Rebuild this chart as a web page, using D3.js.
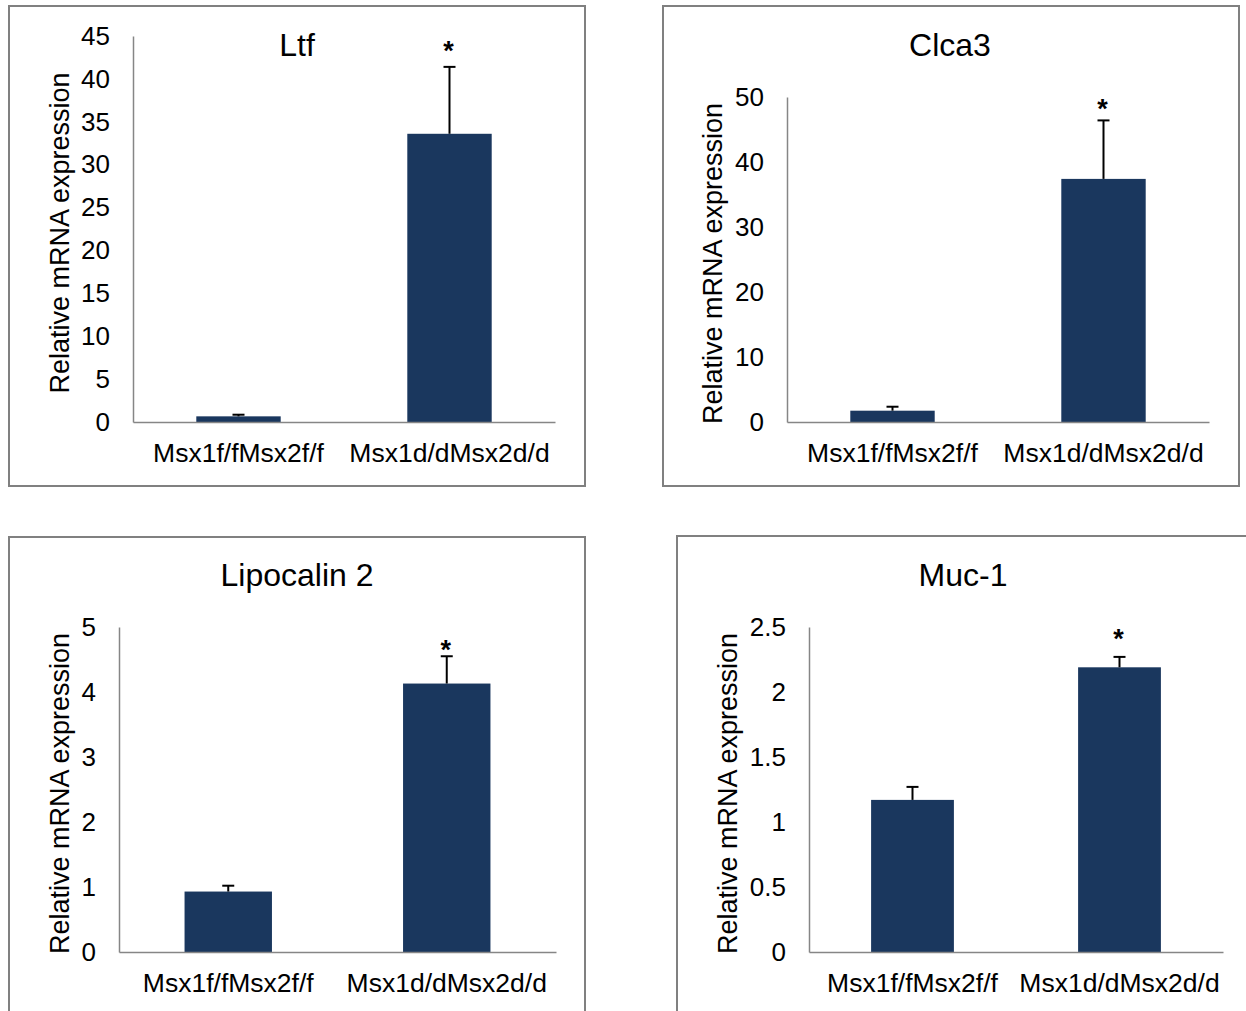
<!DOCTYPE html>
<html>
<head>
<meta charset="utf-8">
<script src="https://cdn.jsdelivr.net/npm/d3@7"></script>
<style>
  html, body { margin: 0; padding: 0; background: #fff; }
  svg { display: block; }
  text { font-family: "Liberation Sans", Arial, sans-serif; fill: #000; }
</style>
</head>
<body>
<svg id="chart" width="1246" height="1011"></svg>
<script>
// Groups on the x axis (same in every panel)
const categories = ["Msx1f/fMsx2f/f", "Msx1d/dMsx2d/d"];

// Gene names used as panel titles
const genes = ["Ltf", "Clca3", "Lipocalin 2", "Muc-1"];

// Mean relative expression and error (SD) per group
const ltfMean = [0.66, 33.6];
const ltfErr = [0.19, 7.8];
const clca3Mean = [1.74, 37.4];
const clca3Err = [0.61, 9.0];
const lcn2Mean = [0.93, 4.13];
const lcn2Err = [0.09, 0.42];
const muc1Mean = [1.17, 2.19];
const muc1Err = [0.10, 0.08];

// Significance marks per group
const significance = ["", "*"];

// Y-axis tick values per panel
const ltfTicks = [0, 5, 10, 15, 20, 25, 30, 35, 40, 45];
const clca3Ticks = [0, 10, 20, 30, 40, 50];
const lcn2Ticks = [0, 1, 2, 3, 4, 5];
const muc1Ticks = [0, 0.5, 1, 1.5, 2, 2.5];

const yLabel = "Relative mRNA expression";

// Panel geometry: outer frame, plot area, title/label placement
const panels = [
  { title: genes[0], mean: ltfMean, err: ltfErr, ticks: ltfTicks,
    frame: [9, 6, 576, 480], plot: { x0: 133, x1: 555, y0: 36, y1: 422 },
    titleXY: [297, 45], labelX: 60, catY: 455, starGap: 21 },
  { title: genes[1], mean: clca3Mean, err: clca3Err, ticks: clca3Ticks,
    frame: [663, 6, 576, 480], plot: { x0: 787, x1: 1209, y0: 97, y1: 422 },
    titleXY: [950, 45], labelX: 713, catY: 455, starGap: 16 },
  { title: genes[2], mean: lcn2Mean, err: lcn2Err, ticks: lcn2Ticks,
    frame: [9, 537, 576, 490], plot: { x0: 119, x1: 556, y0: 627, y1: 952 },
    titleXY: [297, 575], labelX: 60, catY: 985, starGap: 11 },
  { title: genes[3], mean: muc1Mean, err: muc1Err, ticks: muc1Ticks,
    frame: [677, 536, 590, 490], plot: { x0: 809, x1: 1223, y0: 627, y1: 952 },
    titleXY: [963, 575], labelX: 728, catY: 985, starGap: 23 }
];

const svg = d3.select("#chart");
const barColor = "#1a375e";
const axisColor = "#868686";

panels.forEach(p => {
  const g = svg.append("g");

  // frame
  g.append("rect")
    .attr("x", p.frame[0]).attr("y", p.frame[1])
    .attr("width", p.frame[2]).attr("height", p.frame[3])
    .attr("fill", "none").attr("stroke", "#808080").attr("stroke-width", 2);

  const x = d3.scaleBand()
    .domain(categories)
    .range([p.plot.x0, p.plot.x1])
    .paddingInner(0.6)
    .paddingOuter(0.3);

  const yMax = p.ticks[p.ticks.length - 1];
  const y = d3.scaleLinear().domain([0, yMax]).range([p.plot.y1, p.plot.y0]);

  // y axis
  const yAxis = d3.axisLeft(y)
    .tickValues(p.ticks)
    .tickSize(0)
    .tickPadding(23)
    .tickFormat(d3.format("~g"));
  const ya = g.append("g")
    .attr("transform", `translate(${p.plot.x0},0)`)
    .call(yAxis);
  ya.select(".domain").attr("stroke", axisColor).attr("stroke-width", 1.5);
  ya.selectAll("text")
    .style("font-family", "'Liberation Sans', Arial, sans-serif")
    .style("font-size", "26px").attr("fill", "#000");

  // bars
  g.selectAll("rect.bar")
    .data(categories)
    .join("rect")
    .attr("class", "bar")
    .attr("x", d => x(d))
    .attr("width", x.bandwidth())
    .attr("y", (d, i) => y(p.mean[i]))
    .attr("height", (d, i) => y(0) - y(p.mean[i]))
    .attr("fill", barColor);

  // error bars (upper only) and significance marks
  const capHalf = 6;
  categories.forEach((c, i) => {
    const cx = x(c) + x.bandwidth() / 2;
    const top = y(p.mean[i] + p.err[i]);
    g.append("line")
      .attr("x1", cx).attr("x2", cx)
      .attr("y1", y(p.mean[i])).attr("y2", top)
      .attr("stroke", "#000").attr("stroke-width", 2);
    g.append("line")
      .attr("x1", cx - capHalf).attr("x2", cx + capHalf)
      .attr("y1", top).attr("y2", top)
      .attr("stroke", "#000").attr("stroke-width", 2);
    if (significance[i]) {
      g.append("text")
        .attr("x", cx - 1)
        .attr("y", top - p.starGap + 14)
        .attr("text-anchor", "middle")
        .style("font-size", "27px")
        .style("font-weight", "bold")
        .text(significance[i]);
    }
  });

  // x axis
  const xa = g.append("g")
    .attr("transform", `translate(0,${p.plot.y1})`)
    .call(d3.axisBottom(x).tickSize(0).tickSizeOuter(0).tickPadding(21));
  xa.select(".domain").attr("stroke", axisColor).attr("stroke-width", 1.5);
  xa.selectAll("text")
    .style("font-family", "'Liberation Sans', Arial, sans-serif")
    .style("font-size", "26.5px").attr("fill", "#000");

  // title
  g.append("text")
    .attr("x", p.titleXY[0]).attr("y", p.titleXY[1])
    .attr("text-anchor", "middle")
    .attr("dominant-baseline", "central")
    .style("font-size", "32px")
    .text(p.title);

  // y label
  g.append("text")
    .attr("transform", `translate(${p.labelX},${(p.plot.y0 + p.plot.y1) / 2 + 4}) rotate(-90)`)
    .attr("text-anchor", "middle")
    .attr("dominant-baseline", "central")
    .style("font-size", "27px")
    .text(yLabel);
});
</script>
</body>
</html>
